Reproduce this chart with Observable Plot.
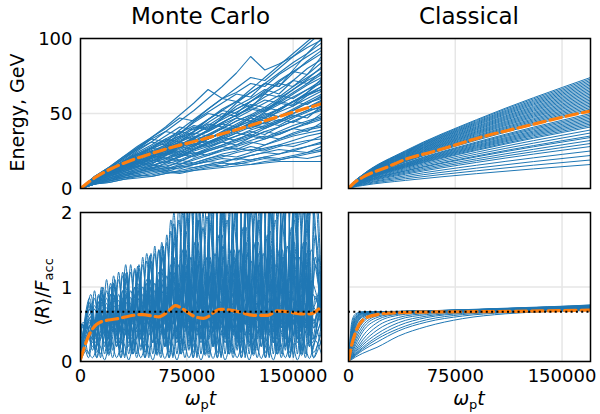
<!DOCTYPE html>
<html><head><meta charset="utf-8">
<script src="https://cdn.jsdelivr.net/npm/d3@7"></script>
<script src="https://cdn.jsdelivr.net/npm/@observablehq/plot@0.6"></script>
<style>
body{margin:0;background:#fff;}
#fig{position:relative;width:600px;height:414px;overflow:hidden;background:#fff;font-family:"DejaVu Sans",sans-serif;}
</style></head>
<body><div id="fig"></div>
<script>
// ---------- DATA ----------
const panelTitles = ["Monte Carlo", "Classical"];
const xTicks = [0, 75000, 150000];
const energyTicks = [0, 50, 100];
const ratioTicks = [0, 1, 2];
const refLevel = [2/3];

// Monte Carlo energy (GeV), sampled every 10000
const tMCEnergy = d3.range(0, 170001, 10000);
const mcEnergy = [
[0,8,14,19,26,31,29,37,44,50,48,57,64,70,68,79,90,100],
[0,7,12,18,25,31,38,45,52,60,68,77,88,79,83,88,94,99],
[0,8,14,21,28,34,41,49,57,66,60,64,70,68,76,82,88,94],
[0,7,13,17,23,27,33,31,38,46,53,58,54,63,71,78,76,88],
[0,6,11,16,21,27,30,35,41,39,47,55,60,66,63,72,80,86],
[0,7,12,16,14,21,27,33,38,44,50,48,55,61,66,72,70,78],
[0,6,11,15,20,24,29,27,33,39,44,49,53,51,58,64,70,76],
[0,7,11,15,19,24,22,28,34,38,43,41,47,52,57,55,62,68],
[0,6,10,14,19,23,27,31,29,35,40,45,49,47,53,58,63,66],
[0,5,10,14,18,16,22,27,31,36,40,38,44,49,53,58,56,62],
[0,6,10,13,17,21,25,23,28,33,37,41,45,43,48,52,57,60],
[0,5,9,13,17,20,24,28,26,31,35,39,43,47,45,50,54,58],
[0,6,9,13,16,20,23,21,26,30,34,32,37,41,45,49,47,55],
[0,5,9,12,16,19,17,22,26,29,33,37,35,40,44,48,52,54],
[0,5,8,12,15,18,22,25,23,27,31,35,38,36,41,45,49,52],
[0,5,8,11,15,13,17,21,25,28,31,29,34,38,41,45,43,50],
[0,4,8,11,14,17,20,18,22,26,29,33,36,34,38,42,45,48],
[0,5,8,11,14,17,20,23,21,25,28,31,34,38,36,40,43,46],
[0,4,7,10,13,16,14,18,22,25,28,26,30,33,36,40,38,44],
[0,4,7,10,13,15,18,21,24,22,26,29,32,35,33,37,40,42],
[0,4,7,10,12,15,18,16,20,23,26,28,31,29,33,36,39,41],
[0,4,7,9,12,14,13,16,19,22,25,27,25,29,32,35,37,39],
[0,4,6,9,11,14,16,19,17,20,23,25,28,26,29,32,35,37],
[0,4,6,9,11,13,12,15,17,20,22,21,24,27,29,28,31,35],
[0,3,6,8,11,13,15,17,16,19,21,24,26,25,28,30,32,33],
[0,3,6,8,10,12,14,13,16,18,20,19,22,24,26,25,28,31],
[0,3,5,8,10,12,11,14,16,18,17,20,22,24,23,26,28,30],
[0,3,5,7,9,11,13,15,14,16,18,20,19,21,23,25,24,28],
[0,3,5,7,9,8,10,12,14,16,15,17,19,21,20,22,24,26],
[0,3,5,7,8,10,12,11,13,15,17,16,18,20,19,21,23,25],
[0,3,4,6,8,9,11,10,12,14,15,17,16,18,19,21,20,22],
[0,3,4,6,7,8,10,11,12,13,14,15,16,17,18,18,18,18],
[0,7,13,20,26,33,38,36,45,51,57,63,61,70,77,84,90,97],
[0,8,13,18,24,29,35,41,39,46,52,58,64,70,68,77,85,92],
[0,6,12,18,23,21,28,34,40,46,52,50,58,65,72,78,84,90],
[0,7,12,17,22,27,32,37,42,40,47,53,58,64,70,68,76,84],
[0,6,11,16,20,25,23,29,34,39,44,49,54,52,59,66,73,81],
[0,6,11,15,19,23,27,31,35,33,38,43,48,53,58,56,64,73],
[0,7,11,15,18,22,26,24,29,33,38,42,47,45,52,58,64,71],
[0,6,10,14,18,21,25,28,32,30,35,39,43,47,51,55,60,65],
[0,8,14,21,27,34,40,47,45,53,60,67,74,72,80,88,96,104],
[0,7,13,20,27,33,31,39,46,53,60,58,66,74,82,90,98,106],
[0,6,12,17,21,26,31,35,33,39,44,49,54,59,57,63,69,74],
[0,7,11,16,21,25,23,29,34,38,43,47,45,51,56,61,66,70],
[0,5,10,15,19,24,28,32,37,35,40,45,49,54,52,58,63,68],
[0,6,11,15,20,18,23,28,32,36,41,39,44,48,53,58,62,66],
[0,6,10,14,18,22,26,30,28,33,37,41,45,50,48,53,58,63],
[0,5,9,14,18,22,20,25,29,33,37,41,40,44,48,52,57,61],
[0,6,10,14,17,21,25,29,33,31,35,39,43,41,45,50,54,59],
[0,5,9,13,17,15,19,23,27,31,34,38,42,40,44,48,52,57],
[0,6,10,13,17,20,24,22,26,30,33,37,41,44,42,47,51,55],
[0,5,9,12,16,19,23,26,30,28,32,35,39,42,46,44,49,53],
[0,7,12,18,23,28,33,38,36,42,48,53,58,63,61,68,74,80],
[0,6,12,17,22,27,25,31,36,41,46,51,56,54,60,66,72,77],
[0,5,9,12,15,18,21,19,23,26,29,32,35,33,37,40,44,47],
[0,6,11,16,20,25,29,34,38,43,41,47,52,57,62,60,66,72]
];
const tMCEnergyMean = [0,10600,22300,36400,50600,64700,78800,112900,140000,170000];
const mcEnergyMean  = [0,7.5,13.5,19,23.5,27.5,31,40,48,56.5];

// Monte Carlo <R>/F_acc: four sampling grids (41 instants each), shifted in phase
const tMCRatioGrids = [
  d3.range(0, 170001, 4250),
  [0, ...d3.range(2125, 166000, 4250), 170000],
  [0, ...d3.range(1400, 166000, 4250), 170000],
  [0, ...d3.range(3000, 166000, 4250), 170000]
];
const mcRatio = [
[0,.45,.3,.9,.4,1.05,.35,1.2,.3,1.25,.4,1.45,.5,1.5,.3,1.9,.6,2.3,.5,2.4,.7,2.2,.4,2.5,.6,2.3,.3,2.6,.5,2.2,.4,2.5,.6,2.3,.3,2.4,.5,2.2,.4,2.6,.9],
[0,.35,.8,.2,1.0,.3,1.15,.25,1.3,.2,1.2,.35,1.4,.3,1.6,.4,2.0,.35,2.2,.5,2.4,.3,2.1,.45,2.3,.2,2.5,.4,2.2,.3,2.4,.5,2.1,.35,2.3,.25,2.5,.4,2.2,.3,1.2],
[0,.5,.35,.85,.3,.95,.4,1.1,.35,1.2,.3,1.3,.45,1.45,.35,1.6,.3,1.9,.5,2.1,.4,1.8,.3,2.2,.45,1.9,.35,2.3,.5,2.0,.3,2.2,.4,1.9,.5,2.3,.35,2.0,.45,2.1,.6],
[0,.4,.75,.3,.9,.2,1.0,.35,1.15,.4,1.25,.3,1.35,.4,1.5,.3,1.8,.45,2.1,.3,1.9,.5,2.2,.35,2.0,.4,2.1,.3,2.4,.45,1.9,.35,2.2,.3,2.0,.5,2.3,.4,1.9,.3,1.0],
[0,.5,.4,.8,.45,.9,.5,.95,.4,1.0,.5,1.1,.45,1.2,.5,1.3,.4,1.5,.55,1.6,.45,1.4,.5,1.7,.4,1.5,.55,1.8,.45,1.6,.5,1.7,.4,1.5,.45,1.8,.5,1.6,.4,1.7,.8],
[0,.42,.7,.4,.85,.45,.9,.4,1.0,.5,1.05,.4,1.1,.5,1.25,.45,1.4,.5,1.5,.4,1.6,.45,1.4,.55,1.7,.45,1.5,.4,1.8,.5,1.6,.45,1.75,.4,1.5,.5,1.9,.45,1.6,.5,.9],
[0,.48,.45,.75,.5,.85,.45,.9,.5,.95,.55,1.0,.5,1.05,.45,1.15,.5,1.3,.45,1.4,.5,1.25,.55,1.45,.5,1.3,.45,1.5,.5,1.35,.55,1.45,.5,1.3,.45,1.55,.5,1.4,.55,1.5,.7],
[0,.4,.65,.45,.8,.5,.85,.45,.9,.55,.95,.5,1.0,.45,1.1,.55,1.2,.5,1.3,.45,1.35,.55,1.2,.5,1.4,.45,1.25,.55,1.45,.5,1.3,.45,1.5,.55,1.35,.5,1.4,.45,1.3,.55,.75],
[0,.5,.15,.8,.1,.9,.2,.95,.1,1.0,.15,1.05,.1,1.1,.2,1.2,.1,1.3,.15,1.35,.1,1.2,.2,1.4,.1,1.3,.15,1.45,.1,1.3,.2,1.4,.1,1.25,.15,1.5,.1,1.35,.2,1.4,.5],
[0,.38,.7,.15,.8,.1,.85,.2,.9,.1,.95,.15,1.0,.1,1.05,.2,1.15,.1,1.2,.15,1.3,.1,1.15,.2,1.25,.1,1.35,.15,1.2,.1,1.3,.2,1.4,.1,1.25,.15,1.35,.1,1.2,.2,.6],
[0,.52,.5,.7,.55,.72,.58,.75,.6,.78,.55,.8,.6,.82,.55,.85,.6,.9,.55,.95,.6,.88,.55,.92,.6,.9,.55,.95,.6,.9,.58,.93,.6,.88,.55,.95,.6,.9,.55,.92,.65],
[0,.4,.6,.45,.65,.5,.68,.45,.7,.5,.72,.45,.75,.5,.78,.45,.8,.5,.82,.45,.85,.5,.8,.45,.82,.5,.85,.45,.8,.5,.83,.45,.85,.5,.8,.45,.82,.5,.85,.45,.7],
[0,.4,.2,.6,.25,.65,.2,.7,.25,.72,.2,.75,.25,.78,.2,.8,.25,.85,.2,.9,.25,.82,.2,.88,.25,.85,.2,.9,.25,.85,.2,.88,.25,.82,.2,.9,.25,.85,.2,.88,.4],
[0,.3,.55,.3,.6,.35,.62,.3,.65,.35,.7,.3,.72,.35,.75,.3,.78,.35,.8,.3,.75,.35,.78,.3,.8,.35,.75,.3,.78,.35,.8,.3,.75,.35,.78,.3,.8,.35,.75,.3,.55],
[0,.3,.05,.45,.1,.5,.05,.55,.08,.5,.05,.55,.1,.6,.05,.55,.08,.6,.05,.58,.1,.55,.05,.6,.08,.55,.05,.58,.1,.6,.05,.55,.08,.6,.05,.55,.1,.58,.05,.6,.2],
[0,.2,.4,.05,.42,.08,.45,.05,.48,.1,.45,.05,.5,.08,.48,.05,.5,.1,.52,.05,.5,.08,.48,.05,.5,.1,.52,.05,.48,.08,.5,.05,.52,.1,.48,.05,.5,.08,.52,.05,.3],
[0,.15,.05,.25,.02,.3,.05,.28,.02,.3,.05,.25,.02,.3,.04,.28,.02,.3,.05,.25,.02,.28,.04,.3,.02,.25,.05,.28,.02,.3,.04,.25,.02,.28,.05,.3,.02,.25,.04,.28,.1],
[0,.45,.85,.5,.95,.55,1.05,.5,1.1,.6,1.2,.55,1.3,.6,1.4,.55,1.6,.65,1.75,.6,1.9,.7,1.8,.65,2.0,.6,1.85,.7,2.1,.65,1.9,.6,2.0,.7,1.85,.65,2.1,.6,1.9,.7,1.1],
[0,.5,.1,.95,.05,1.1,.15,1.2,.05,1.3,.1,1.4,.05,1.55,.1,1.7,.05,2.1,.15,2.3,.05,2.0,.1,2.4,.05,2.2,.1,2.5,.05,2.1,.15,2.4,.05,2.2,.1,2.5,.05,2.3,.1,2.4,.3],
[0,.45,.9,.35,1.0,.3,1.1,.4,1.2,.35,1.3,.4,1.45,.35,1.55,.45,1.7,.4,1.95,.35,2.1,.45,1.9,.4,2.2,.35,2.0,.45,2.3,.4,2.1,.35,2.2,.45,2.0,.4,2.3,.35,2.1,.45,1.3],
[0,.5,.3,.7,.35,.8,.3,.85,.35,.9,.3,.95,.4,1.0,.35,1.1,.3,1.2,.35,1.25,.3,1.15,.4,1.3,.35,1.2,.3,1.35,.4,1.25,.35,1.3,.3,1.2,.4,1.35,.3,1.25,.35,1.3,.6],
[0,.4,.75,.25,.85,.3,.9,.25,.95,.3,1.0,.25,1.1,.3,1.2,.25,1.35,.3,1.45,.25,1.5,.3,1.35,.25,1.55,.3,1.4,.25,1.6,.3,1.45,.25,1.55,.3,1.4,.25,1.6,.3,1.45,.25,.8],
[0,.35,.3,.55,.35,.6,.4,.62,.35,.65,.4,.68,.35,.7,.4,.72,.35,.75,.4,.78,.35,.72,.4,.76,.35,.74,.4,.78,.35,.75,.4,.77,.35,.73,.4,.78,.35,.75,.4,.76,.5],
[0,.3,.6,.05,.7,.1,.75,.05,.8,.1,.85,.05,.9,.1,.95,.05,1.0,.1,1.05,.05,1.1,.1,1.0,.05,1.1,.1,1.05,.05,1.15,.1,1.0,.05,1.1,.1,1.05,.05,1.15,.1,1.0,.05,.5],
[0,.48,.25,.88,.2,1.0,.25,1.15,.2,1.22,.3,1.35,.25,1.5,.2,1.75,.3,2.0,.25,2.2,.3,1.95,.2,2.3,.3,2.1,.25,2.4,.2,2.0,.3,2.3,.25,2.1,.2,2.35,.3,2.0,.25,2.2,.7],
[0,.42,.78,.15,.92,.2,1.05,.15,1.18,.2,1.28,.15,1.42,.2,1.55,.15,1.85,.2,2.3,.15,2.5,.2,2.2,.15,2.6,.2,2.3,.15,2.5,.2,2.4,.15,2.6,.2,2.3,.15,2.5,.2,2.4,.15,1.0],
[0,.46,.45,.7,.5,.78,.45,.82,.5,.86,.45,.9,.5,.95,.45,1.0,.5,1.05,.45,1.1,.5,1.0,.45,1.08,.5,1.02,.45,1.1,.5,1.05,.45,1.08,.5,1.0,.45,1.1,.5,1.05,.45,1.08,.6],
[0,.25,.5,.12,.55,.15,.58,.12,.6,.15,.62,.12,.65,.15,.68,.12,.7,.15,.72,.12,.68,.15,.7,.12,.72,.15,.68,.12,.7,.15,.72,.12,.68,.15,.7,.12,.72,.15,.68,.12,.4]
];
const tMCRatioMean = [0,5900,14100,24700,43500,55200,61100,67000,71700,78700,86900,98700,111000,122000,132000,139000,145000,155000,162000,170000];
const mcRatioMean  = [0.03,0.35,0.53,0.57,0.63,0.60,0.66,0.75,0.71,0.62,0.58,0.70,0.67,0.62,0.62,0.68,0.67,0.64,0.64,0.74];

// Classical energy (GeV)
const tClEnergy = [0,3000,10000,40000,90000,170000];
const clEnergy = [
[0,3.7,9.3,25.2,45.9,74],[0,3.7,9.1,24.8,45.3,73],[0,3.6,9,24.5,44.6,72],[0,3.6,8.9,24.1,44,71],
[0,3.5,8.8,23.8,43.4,70],[0,3.5,8.6,23.5,42.8,69],[0,3.4,8.5,23.1,42.2,68],[0,3.4,8.4,22.8,41.5,67],
[0,3.3,8.3,22.4,40.9,66],[0,3.3,8.1,22.1,40.3,65],[0,3.2,8,21.8,39.7,64],[0,3.2,7.9,21.4,39.1,63],
[0,3.1,7.8,21.1,38.4,62],[0,3.1,7.6,20.7,37.8,61],[0,3,7.5,20.4,37.2,60],[0,3,7.4,20.1,36.6,59],
[0,2.9,7.3,19.7,36,58],[0,2.9,7.1,19.4,35.3,57],[0,2.8,7,19,34.7,56],[0,2.8,6.9,18.7,34.1,55],
[0,2.7,6.8,18.4,33.5,54],[0,2.7,6.6,18,32.9,53],[0,2.6,6.5,17.7,32.2,52],[0,2.5,6.3,17,31,50],
[0,2.5,6.1,16.7,30.4,49],[0,2.4,6,16.3,29.8,48],[0,2.4,5.9,16,29.1,47],[0,2.3,5.8,15.6,28.5,46],
[0,2.3,5.6,15.3,27.9,45],[0,2.2,5.5,15,27.3,44],[0,2.2,5.4,14.6,26.7,43],[0,2.1,5.3,14.3,26,42],
[0,2.1,5.1,13.9,25.4,41],[0,2,4.9,13.3,24.2,39],[0,1.9,4.6,12.6,22.9,37],[0,1.8,4.4,11.9,21.7,35],
[0,1.7,4.3,11.6,21.1,34],[0,1.6,4,10.9,19.8,32],[0,1.5,3.8,10.2,18.6,30],[0,1.4,3.5,9.5,17.4,28],
[0,1.3,3.1,8.5,15.5,25],[0,1.1,2.8,7.5,13.6,22],[0,1,2.4,6.5,11.8,19],[0,.8,2,5.4,9.9,16]
];
const tClEnergyMean = [0,3000,10000,27000,41000,58000,74000,93000,112000,131000,150000,170000];
const clEnergyMean  = [0,3,7.5,14.2,19.8,24.2,28.7,34.2,38.7,43.1,47.5,51.7];

// Classical <R>/F_acc
const tClRatio = [0,2500,5000,10000,20000,35000,55000,80000,110000,140000,170000];
const clRatio = [
[0,.55,.64,.668,.67,.673,.68,.688,.70,.71,.72],
[0,.5,.62,.665,.67,.672,.678,.685,.695,.705,.715],
[0,.45,.6,.66,.67,.67,.675,.68,.69,.70,.71],
[0,.43,.59,.655,.668,.672,.68,.69,.70,.715,.725],
[0,.4,.57,.65,.665,.67,.675,.685,.695,.71,.72],
[0,.38,.56,.645,.665,.67,.678,.69,.705,.72,.735],
[0,.36,.54,.64,.665,.67,.68,.69,.70,.72,.73],
[0,.34,.52,.63,.662,.67,.68,.692,.71,.73,.745],
[0,.32,.5,.62,.66,.67,.68,.69,.71,.725,.74],
[0,.30,.48,.61,.658,.668,.68,.695,.715,.735,.755],
[0,.28,.46,.6,.655,.668,.678,.69,.705,.72,.735],
[0,.25,.42,.58,.65,.665,.675,.69,.71,.73,.75],
[0,.22,.38,.55,.64,.665,.675,.69,.71,.73,.76],
[0,.19,.34,.52,.63,.66,.67,.685,.70,.72,.74],
[0,.16,.3,.48,.61,.65,.67,.685,.70,.72,.735],
[0,.13,.26,.44,.59,.645,.665,.68,.70,.715,.73],
[0,.11,.22,.4,.56,.635,.66,.68,.695,.71,.725],
[0,.09,.18,.34,.52,.62,.655,.675,.69,.705,.72],
[0,.08,.15,.29,.47,.59,.645,.67,.685,.70,.715],
[0,.07,.13,.25,.42,.56,.63,.665,.68,.695,.71],
[0,.06,.11,.22,.37,.52,.61,.655,.675,.69,.705],
[0,.05,.1,.19,.33,.48,.59,.645,.67,.685,.70],
[0,.045,.09,.17,.3,.44,.56,.63,.665,.68,.695],
[0,.04,.08,.15,.26,.41,.53,.61,.655,.675,.69],
[0,.03,.06,.11,.19,.34,.47,.575,.64,.67,.685]
];
const tClRatioMean = [0,2000,6000,11000,20000,35000,60000,100000,140000,170000];
const clRatioMean  = [0,0.2,0.44,0.57,0.63,0.655,0.665,0.67,0.68,0.69];

// ---------- DRAWING ----------
const BLUE = "#1f77b4", ORANGE = "#ff7f0e", GRID = "#e6e6e6";
const fig = document.getElementById("fig");
const toRows = (lines, tOf) => lines.flatMap((vals, id) => { const t = tOf(id); return vals.map((v, i) => ({t: t[i], v, id})); });
const zip = (t, v) => t.map((tt, i) => ({t: tt, v: v[i]}));

function panel(o) {
  const marks = [
    Plot.gridX(xTicks, {stroke: GRID, strokeOpacity: 1, strokeWidth: 1.5}),
    Plot.gridY(o.yTicks, {stroke: GRID, strokeOpacity: 1, strokeWidth: 1.5}),
    Plot.line(toRows(o.lines, o.tOf), {x: "t", y: "v", z: "id", stroke: BLUE, strokeWidth: o.lw, curve: o.curve, clip: true}),
    Plot.line(zip(o.meanT, o.meanV), {x: "t", y: "v", stroke: ORANGE, strokeWidth: 3.2, strokeDasharray: "11.5,5", curve: "monotone-x", clip: true})
  ];
  if (o.dotted) marks.push(Plot.ruleY(refLevel, {stroke: "black", strokeWidth: 2, strokeDasharray: "2,3.3"}));
  marks.push(Plot.frame({stroke: "black", strokeWidth: 1.5}));
  if (o.showY) marks.push(Plot.axisY(o.yTicks, {tickSize: 0, tickPadding: 8, fontSize: 18, label: null, tickFormat: d => String(d), dy: 1}));
  if (o.showX) marks.push(Plot.axisX(xTicks, {tickSize: 0, tickPadding: 8, fontSize: 18, label: null, tickFormat: d3.format("d")}));
  const svg = Plot.plot({
    width: o.width, height: o.height,
    marginLeft: o.mL, marginRight: o.mR, marginTop: o.mT, marginBottom: o.mB,
    x: {domain: [0, 170000], axis: null},
    y: {domain: o.yDomain, axis: null},
    style: {background: "transparent", fontFamily: "DejaVu Sans", fontSize: "18px", color: "black", overflow: "visible"},
    marks
  });
  svg.style.position = "absolute";
  svg.style.left = o.left + "px";
  svg.style.top = o.top + "px";
  fig.appendChild(svg);
}

const topGeom = {top: 30, height: 165, mT: 8, mB: 7};
const botGeom = {top: 200, height: 214, mT: 12, mB: 53};
const leftGeom = {left: 0, width: 330, mL: 80, mR: 9};
const rightGeom = {left: 330, width: 270, mL: 18, mR: 10};

panel({...topGeom, ...leftGeom, yDomain: [0, 100], yTicks: energyTicks, showY: true, showX: false, lw: 1.1,
  lines: mcEnergy, tOf: () => tMCEnergy, curve: "linear", meanT: tMCEnergyMean, meanV: mcEnergyMean});
panel({...topGeom, ...rightGeom, yDomain: [0, 100], yTicks: energyTicks, showY: false, showX: false, lw: 1,
  lines: clEnergy, tOf: () => tClEnergy, curve: "monotone-x", meanT: tClEnergyMean, meanV: clEnergyMean});
panel({...botGeom, ...leftGeom, yDomain: [0, 2], yTicks: ratioTicks, showY: true, showX: true, dotted: true, lw: 1,
  lines: mcRatio, tOf: id => tMCRatioGrids[id % 4], curve: "catmull-rom", meanT: tMCRatioMean, meanV: mcRatioMean});
panel({...botGeom, ...rightGeom, yDomain: [0, 2], yTicks: ratioTicks, showY: false, showX: true, dotted: true, lw: 1,
  lines: clRatio, tOf: () => tClRatio, curve: "monotone-x", meanT: tClRatioMean, meanV: clRatioMean});

// ---------- TEXT OVERLAY ----------
const ov = d3.create("svg").attr("width", 600).attr("height", 414)
  .style("position", "absolute").style("left", "0px").style("top", "0px")
  .attr("font-family", "DejaVu Sans").attr("fill", "black");
ov.append("text").attr("x", 200.5).attr("y", 24).attr("text-anchor", "middle").attr("font-size", 23).text(panelTitles[0]);
ov.append("text").attr("x", 469).attr("y", 24).attr("text-anchor", "middle").attr("font-size", 23).text(panelTitles[1]);

ov.append("text").attr("transform", "translate(24,112.5) rotate(-90)").attr("text-anchor", "middle")
  .attr("font-size", 19).text("Energy, GeV");

const yl = ov.append("text").attr("transform", "translate(49,292) rotate(-90)").attr("text-anchor", "middle").attr("font-size", 19);
yl.append("tspan").text("⟨");
yl.append("tspan").attr("font-style", "italic").text("R");
yl.append("tspan").text("⟩/");
yl.append("tspan").attr("font-style", "italic").text("F");
yl.append("tspan").attr("font-size", 13).attr("dy", 4).text("acc");

for (const cx of [200.5, 469]) {
  const xl = ov.append("text").attr("x", cx).attr("y", 405).attr("text-anchor", "middle").attr("font-size", 19);
  xl.append("tspan").attr("font-style", "italic").text("ω");
  xl.append("tspan").attr("font-size", 13).attr("dy", 4).text("p");
  xl.append("tspan").attr("font-style", "italic").attr("dy", -4).text("t");
}
fig.appendChild(ov.node());
</script>
</body></html>
